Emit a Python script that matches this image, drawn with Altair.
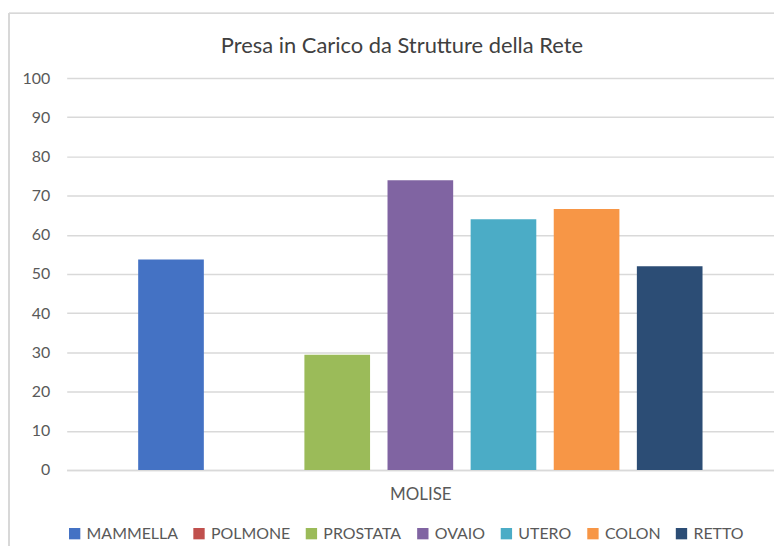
import altair as alt
import pandas as pd

series = ["MAMMELLA", "POLMONE", "PROSTATA", "OVAIO", "UTERO", "COLON", "RETTO"]
values = [53.7, 0, 29.4, 73.9, 64.0, 66.6, 52.0]
colors = ["#4472C4", "#C0504D", "#9BBB59", "#8064A2", "#4BACC6", "#F79646", "#2C4D75"]
region = "MOLISE"
title = "Presa in Carico da Strutture della Rete"

df = pd.DataFrame({"serie": series, "valore": values, "regione": [region] * len(series)})

FONT = "Lato"
GRAY = "#595959"

bars = alt.Chart(df).mark_bar().encode(
    x=alt.X("serie:N", sort=series,
            scale=alt.Scale(paddingInner=0.21, paddingOuter=0.86),
            axis=alt.Axis(labels=False, ticks=False, domain=True, domainColor="#d9d9d9",
                          domainWidth=1.5, title=region, titleFont=FONT, titleFontSize=17,
                          titleFontWeight="normal", titleColor=GRAY, titlePadding=17)),
    y=alt.Y("valore:Q", scale=alt.Scale(domain=[0, 100]),
            axis=alt.Axis(values=list(range(0, 101, 10)), ticks=False, domain=False,
                          grid=True, gridColor="#d9d9d9", gridWidth=1.5, labelFont=FONT,
                          labelFontSize=16, labelColor=GRAY, labelPadding=17, title=None)),
    color=alt.Color("serie:N", sort=series,
                    scale=alt.Scale(domain=series, range=colors),
                    legend=alt.Legend(orient="none", legendX=0, legendY=450,
                                      direction="horizontal", title=None,
                                      symbolType="square", symbolSize=130,
                                      symbolStrokeWidth=0,
                                      labelFont=FONT, labelFontSize=16, labelColor=GRAY,
                                      labelOffset=4, columnPadding=13)),
)

frame = alt.Chart(df).mark_rect(fill=None, stroke="#d9d9d9", strokeWidth=1).encode(
    x=alt.value(-58), x2=alt.value(800), y=alt.value(-65), y2=alt.value(600)
)

title_df = pd.DataFrame({"t": [title]})
title_mark = alt.Chart(title_df).mark_text(
    font=FONT, fontSize=22, color="#404040", align="center", baseline="middle"
).encode(text="t:N", x=alt.value(337), y=alt.value(-32))

chart = alt.layer(frame, bars, title_mark).properties(
    width=711, height=394,
    autosize=alt.AutoSizeParams(type="none"),
    padding={"left": 59, "top": 69, "right": 0, "bottom": 75},
).configure_view(stroke=None)

chart.save("out.html", embed_options={"renderer": "svg", "actions": False})
